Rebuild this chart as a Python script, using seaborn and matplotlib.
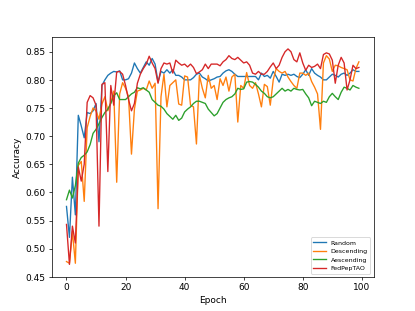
import pandas as pd
import numpy as np

import seaborn as sns
import matplotlib.pyplot as plt

epochs = list(range(100))

random_acc = [
    0.575, 0.520, 0.627, 0.560, 0.737, 0.718, 0.697, 0.742, 0.740, 0.745,
    0.758, 0.690, 0.790, 0.800, 0.808, 0.812, 0.815, 0.814, 0.816, 0.800,
    0.800, 0.802, 0.812, 0.830, 0.820, 0.812, 0.822, 0.832, 0.826, 0.838,
    0.828, 0.796, 0.815, 0.812, 0.818, 0.812, 0.818, 0.808, 0.808, 0.805,
    0.800, 0.800, 0.800, 0.804, 0.810, 0.812, 0.805, 0.802, 0.798, 0.800,
    0.802, 0.805, 0.806, 0.812, 0.816, 0.818, 0.815, 0.810, 0.806, 0.806,
    0.806, 0.806, 0.806, 0.806, 0.806, 0.800, 0.812, 0.806, 0.808, 0.803,
    0.815, 0.806, 0.796, 0.810, 0.808, 0.810, 0.808, 0.810, 0.806, 0.804,
    0.810, 0.818, 0.808, 0.820, 0.812, 0.808, 0.805, 0.800, 0.800, 0.805,
    0.810, 0.808, 0.805, 0.810, 0.812, 0.808, 0.812, 0.818, 0.815, 0.815,
]

descending_acc = [
    0.477, 0.474, 0.530, 0.474, 0.648, 0.655, 0.584, 0.715, 0.735, 0.750,
    0.745, 0.730, 0.757, 0.770, 0.745, 0.760, 0.780, 0.618, 0.775, 0.795,
    0.785, 0.770, 0.668, 0.748, 0.780, 0.782, 0.785, 0.782, 0.798, 0.785,
    0.794, 0.571, 0.770, 0.810, 0.752, 0.790, 0.795, 0.800, 0.757, 0.755,
    0.807, 0.805, 0.755, 0.752, 0.686, 0.808, 0.785, 0.768, 0.808, 0.785,
    0.790, 0.765, 0.802, 0.790, 0.805, 0.780, 0.805, 0.810, 0.725, 0.790,
    0.785, 0.813, 0.790, 0.785, 0.795, 0.775, 0.752, 0.792, 0.788, 0.755,
    0.800, 0.820, 0.815, 0.812, 0.815, 0.805, 0.797, 0.790, 0.785, 0.812,
    0.812, 0.808, 0.812, 0.797, 0.787, 0.775, 0.712, 0.830, 0.843, 0.837,
    0.815, 0.826, 0.825, 0.822, 0.820, 0.818, 0.800, 0.798, 0.820, 0.832,
]

aescending_acc = [
    0.587, 0.604, 0.590, 0.612, 0.652, 0.662, 0.666, 0.672, 0.685, 0.705,
    0.712, 0.722, 0.733, 0.742, 0.748, 0.758, 0.772, 0.777, 0.765, 0.765,
    0.765, 0.770, 0.775, 0.778, 0.786, 0.784, 0.786, 0.782, 0.778, 0.765,
    0.760, 0.755, 0.753, 0.748, 0.740, 0.735, 0.730, 0.737, 0.728, 0.732,
    0.743, 0.748, 0.752, 0.758, 0.762, 0.762, 0.760, 0.758, 0.748, 0.742,
    0.736, 0.740, 0.750, 0.760, 0.765, 0.768, 0.770, 0.775, 0.785, 0.783,
    0.784, 0.796, 0.797, 0.796, 0.792, 0.787, 0.780, 0.776, 0.770, 0.768,
    0.770, 0.775, 0.780, 0.785, 0.780, 0.783, 0.780, 0.785, 0.783, 0.782,
    0.783, 0.775, 0.768, 0.754, 0.762, 0.760, 0.758, 0.762, 0.760, 0.770,
    0.776, 0.770, 0.765, 0.778, 0.787, 0.785, 0.782, 0.790, 0.787, 0.785,
]

fedpeptao_acc = [
    0.543, 0.472, 0.540, 0.510, 0.645, 0.620, 0.650, 0.760, 0.772, 0.768,
    0.755, 0.540, 0.792, 0.795, 0.637, 0.790, 0.755, 0.814, 0.815, 0.810,
    0.790, 0.765, 0.745, 0.758, 0.794, 0.810, 0.820, 0.828, 0.842, 0.830,
    0.820, 0.794, 0.820, 0.830, 0.828, 0.830, 0.812, 0.835, 0.830, 0.826,
    0.828, 0.823, 0.828, 0.822, 0.811, 0.814, 0.818, 0.828, 0.820, 0.828,
    0.828, 0.828, 0.825, 0.832, 0.836, 0.843, 0.838, 0.836, 0.840, 0.835,
    0.830, 0.832, 0.826, 0.812, 0.810, 0.815, 0.810, 0.810, 0.815, 0.823,
    0.830, 0.820, 0.826, 0.840, 0.850, 0.855, 0.850, 0.836, 0.832, 0.848,
    0.830, 0.817, 0.826, 0.822, 0.824, 0.828, 0.820, 0.845, 0.848, 0.846,
    0.835, 0.794, 0.826, 0.840, 0.830, 0.782, 0.800, 0.826, 0.820, 0.822,
]

methods = ['Random', 'Descending', 'Aescending', 'FedPepTAO']
series = [random_acc, descending_acc, aescending_acc, fedpeptao_acc]
colors = ['#1f77b4', '#ff7f0e', '#2ca02c', '#d62728']

df = pd.concat(
    [pd.DataFrame({'Epoch': epochs, 'Accuracy': s, 'Method': m}) for m, s in zip(methods, series)],
    ignore_index=True,
)

fig, ax = plt.subplots(figsize=(6.4, 4.8))
sns.lineplot(data=df, x='Epoch', y='Accuracy', hue='Method', hue_order=methods,
             palette=colors, linewidth=1.5, ax=ax)
ax.set_ylim(0.45, 0.876)
ax.set_xlabel('Epoch')
ax.set_ylabel('Accuracy')
ax.legend(loc='lower right', fontsize=7)

fig.savefig('out.png', dpi=415 / 6.4)
